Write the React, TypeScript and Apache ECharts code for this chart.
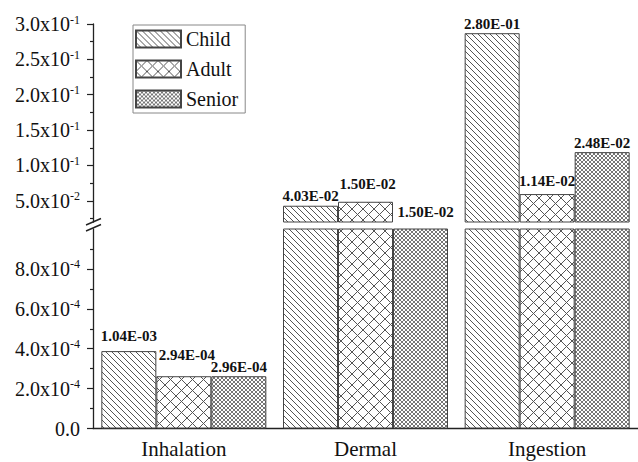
import React, { useEffect, useRef } from "react";
import * as echarts from "echarts";

// ---- data ----
const categories = ["Inhalation", "Dermal", "Ingestion"];
const seriesNames = ["Child", "Adult", "Senior"];
const childValues = [3.88e-4, 0.043, 0.287];
const adultValues = [2.62e-4, 0.0486, 0.0595];
const seniorValues = [2.62e-4, 0.015, 0.1188];
const childLabels = ["1.04E-03", "4.03E-02", "2.80E-01"];
const adultLabels = ["2.94E-04", "1.50E-02", "1.14E-02"];
const seniorLabels = ["2.96E-04", "1.50E-02", "2.48E-02"];
const upperRange = [0.02, 0.3];
const lowerRange = [0, 0.001];
const upperTicks = [0.05, 0.1, 0.15, 0.2, 0.25, 0.3];
const upperMinorTicks = [0.025, 0.075, 0.125, 0.175, 0.225, 0.275];
const lowerTicks = [0, 2e-4, 4e-4, 6e-4, 8e-4];
const lowerMinorTicks = [1e-4, 3e-4, 5e-4, 7e-4, 9e-4];

// ---- styles ----
const FONT = "Liberation Serif";
const TEXT = "#111";
const AXIS = "#222";
const labelOffsets: number[][][] = [
  [[0, -6], [0, 0], [0, 0]],
  [[3, -12], [2, -8], [0, -4]],
  [[0, 0], [5, -7], [0, 0]],
];

function makePattern(size: number, dirs: string[], color: string, lw: number) {
  const c = document.createElement("canvas");
  c.width = size;
  c.height = size;
  const ctx = c.getContext("2d")!;
  ctx.fillStyle = "#fff";
  ctx.fillRect(0, 0, size, size);
  ctx.strokeStyle = color;
  ctx.lineWidth = lw;
  for (const d of dirs) {
    for (const o of [-size, 0, size]) {
      ctx.beginPath();
      if (d === "back") {
        ctx.moveTo(o, 0);
        ctx.lineTo(o + size, size);
      } else {
        ctx.moveTo(o, size);
        ctx.lineTo(o + size, 0);
      }
      ctx.stroke();
    }
  }
  return { image: c, repeat: "repeat", imageWidth: size, imageHeight: size } as any;
}

function yLabel(v: number) {
  if (v === 0) return "{m|0.0}";
  const [m, e] = v.toExponential(1).split("e");
  return `{m|${m}x10}{s|${e.replace("+", "")}}`;
}

export default function App() {
  const ref = useRef<HTMLDivElement>(null);
  useEffect(() => {
    if (!ref.current) return;
    const chart = echarts.init(ref.current, null, { renderer: "svg" });
    const patterns = [
      makePattern(6, ["back"], "#555", 1),
      makePattern(11, ["back", "fwd"], "#555", 1),
      makePattern(4, ["back", "fwd"], "#666", 0.9),
    ];
    const values = [childValues, adultValues, seniorValues];
    const labels = [childLabels, adultLabels, seniorLabels];

    const richY = {
      m: { fontFamily: FONT, fontSize: 20, color: TEXT, lineHeight: 21 },
      s: { fontFamily: FONT, fontSize: 12, color: TEXT, verticalAlign: "top", lineHeight: 12 },
    };

    const makeSeries = (gi: number) =>
      seriesNames.map((name, si) => ({
        type: "bar",
        name,
        xAxisIndex: gi === 0 ? 0 : 1,
        yAxisIndex: gi === 0 ? 0 : 2,
        barWidth: 55,
        barGap: "0%",
        clip: true,
        itemStyle: { color: patterns[si], borderColor: "#444", borderWidth: 1 },
        label: {
          show: true,
          position: "top",
          distance: 2,
          fontFamily: FONT,
          fontWeight: "bold",
          fontSize: 15,
          color: TEXT,
          formatter: (p: any) => labels[si][p.dataIndex],
        },
        data: values[si].map((v, i) => {
          const inUpper = v >= upperRange[0];
          const show = gi === 0 ? inUpper : !inUpper;
          return { value: v, label: { show, offset: labelOffsets[si][i] } };
        }),
      }));

    chart.setOption({
      animation: false,
      backgroundColor: "#fff",
      grid: [
        { left: 93, right: 0, top: 24, height: 198 },
        { left: 93, right: 0, top: 229, height: 199.5 },
      ],
      legend: {
        orient: "vertical",
        left: 133,
        top: 25,
        data: seriesNames,
        icon: "rect",
        itemWidth: 45,
        itemHeight: 17,
        itemGap: 10,
        padding: [4, 7, 4, 2],
        borderColor: "#888",
        borderWidth: 1,
        textStyle: { fontFamily: FONT, fontSize: 20, color: TEXT },
      },
      xAxis: [
        { type: "category", gridIndex: 0, data: categories, show: false },
        {
          type: "category",
          gridIndex: 1,
          data: categories,
          axisLine: { lineStyle: { color: AXIS, width: 1.3 } },
          axisTick: { alignWithLabel: true, length: 7, lineStyle: { color: AXIS, width: 1.2 } },
          axisLabel: { fontFamily: FONT, fontSize: 21, color: TEXT, margin: 10 },
        },
        {
          type: "category",
          gridIndex: 1,
          data: categories,
          axisLine: { show: false },
          axisTick: { length: 4, lineStyle: { color: AXIS, width: 1.2 } },
          axisLabel: { show: false },
        },
      ],
      yAxis: [
        {
          type: "value",
          gridIndex: 0,
          min: upperRange[0],
          max: upperRange[1],
          splitLine: { show: false },
          axisLine: { show: true, lineStyle: { color: AXIS, width: 1.3 } },
          axisTick: { show: true, customValues: upperTicks, length: 6, lineStyle: { color: AXIS, width: 1.2 } },
          axisLabel: { customValues: upperTicks, formatter: yLabel, rich: richY, margin: 13 },
        },
        {
          type: "value",
          gridIndex: 0,
          position: "left",
          min: upperRange[0],
          max: upperRange[1],
          splitLine: { show: false },
          axisLine: { show: false },
          axisTick: { show: true, customValues: upperMinorTicks, length: 3, lineStyle: { color: AXIS, width: 1.2 } },
          axisLabel: { show: false },
        },
        {
          type: "value",
          gridIndex: 1,
          min: lowerRange[0],
          max: lowerRange[1],
          splitLine: { show: false },
          axisLine: { show: true, lineStyle: { color: AXIS, width: 1.3 } },
          axisTick: { show: true, customValues: lowerTicks, length: 6, lineStyle: { color: AXIS, width: 1.2 } },
          axisLabel: { customValues: lowerTicks, formatter: yLabel, rich: richY, margin: 13 },
        },
        {
          type: "value",
          gridIndex: 1,
          position: "left",
          min: lowerRange[0],
          max: lowerRange[1],
          splitLine: { show: false },
          axisLine: { show: false },
          axisTick: { show: true, customValues: lowerMinorTicks, length: 3, lineStyle: { color: AXIS, width: 1.2 } },
          axisLabel: { show: false },
        },
      ],
      graphic: [
        {
          type: "line",
          shape: { x1: 86, y1: 225, x2: 101, y2: 218.5 },
          style: { stroke: AXIS, lineWidth: 1.4 },
          z: 100,
        },
        {
          type: "line",
          shape: { x1: 86, y1: 231, x2: 101, y2: 224.5 },
          style: { stroke: AXIS, lineWidth: 1.4 },
          z: 100,
        },
      ],
      series: [...makeSeries(0), ...makeSeries(1)],
    });
    return () => chart.dispose();
  }, []);
  return (
    <div
      ref={ref}
      style={{ position: "absolute", left: 0, top: 0, width: 638, height: 462 }}
    />
  );
}
